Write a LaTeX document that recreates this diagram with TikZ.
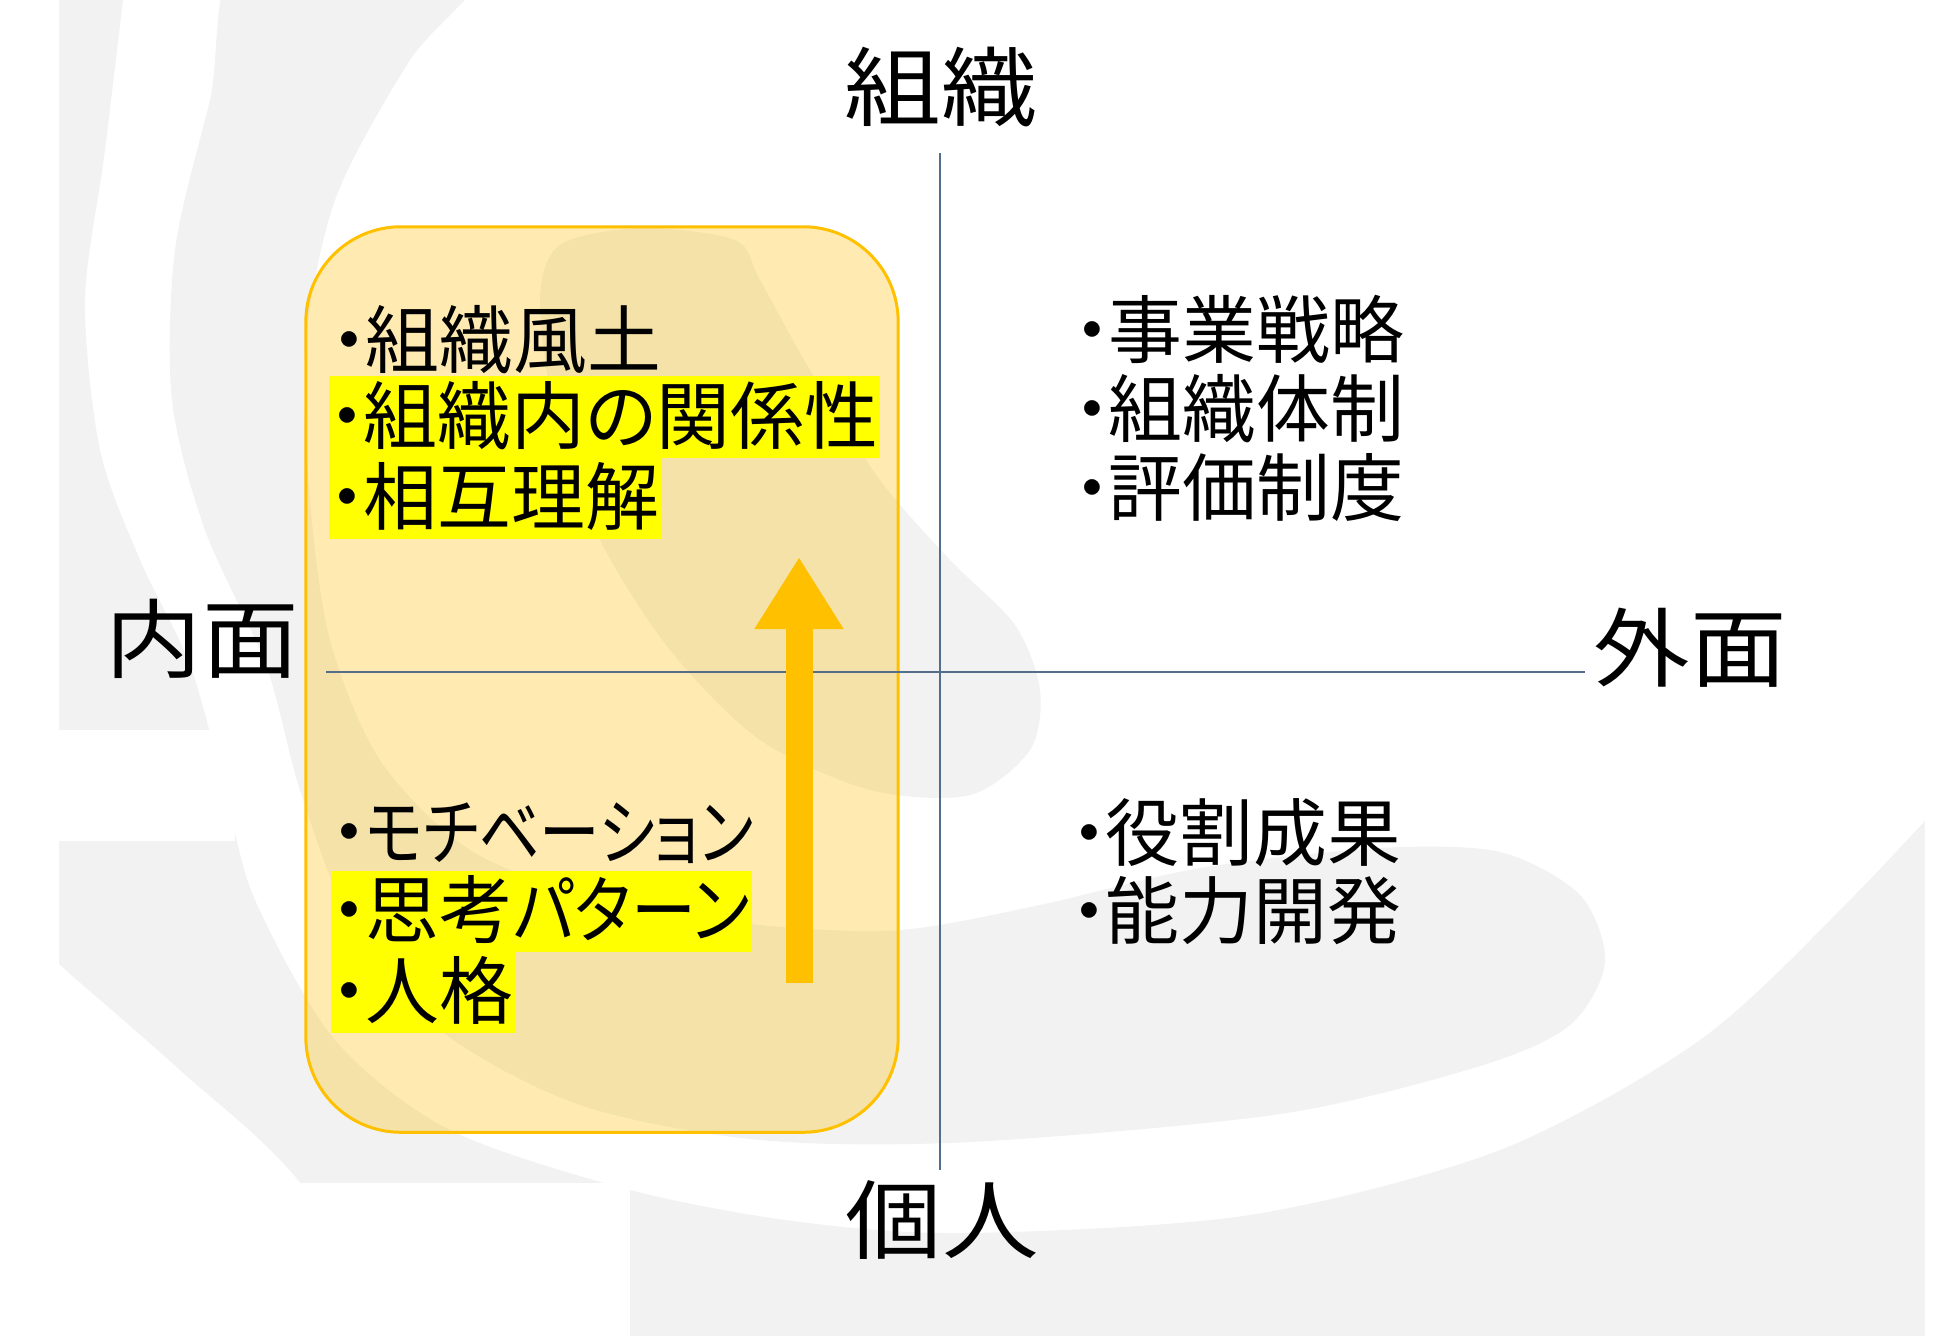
\documentclass[tikz,border=0pt]{standalone}
\usepackage{fontspec}
\usepackage{graphicx}
\setmainfont{Noto Sans CJK JP}[RawFeature=+palt]
\newfontfamily\ttlfont{Noto Sans CJK JP}[FakeStretch=1.12]
\usetikzlibrary{arrows.meta}
\definecolor{bggrey}{HTML}{F2F2F2}
\definecolor{gold}{HTML}{FFC000}
\definecolor{axiscol}{RGB}{84,110,138}
\definecolor{hlyellow}{HTML}{FFFF00}
\newcommand\bul{\makebox[0.45em][c]{・}}
\begin{document}
\begin{tikzpicture}[x=0.01cm,y=-0.01cm,
  item/.style={anchor=west, inner xsep=0.02cm, inner ysep=0pt, text height=0.665cm, text depth=0.145cm, font=\fontsize{21pt}{25pt}\selectfont},
  hlitem/.style={item, fill=hlyellow},
  axislabel/.style={inner sep=0pt, text height=0.775cm, text depth=0.17cm, font=\ttlfont\fontsize{24.5pt}{28pt}\selectfont},
  axisline/.style={draw=axiscol, line width=0.75pt},
  zone/.style={draw=gold, line width=0.85pt, fill=gold, fill opacity=0.3, rounded corners=0.95cm, minimum width=5.92cm, minimum height=9.05cm, inner sep=0pt},
  uparrow/.style={draw=gold, line width=0.27cm, -{Triangle[width=0.84cm,length=0.72cm]}},
  bg/.style={fill=bggrey}
]
\fill[white] (0,0) rectangle (1940,1335);
\useasboundingbox (0,0) rectangle (1940,1335);
% background swirl
\fill[bg] (-10,-60) -- plot[smooth] coordinates {(130,-60) (105,150) (85,300) (100,450) (140,560) (190,665) (225,790) (255,900) (335,1040) (450,1130) (630,1190) (800,1222) (970,1233) (1250,1215) (1500,1150) (1700,1040) (1850,900) (1990,750)} -- (1990,1400) -- plot[smooth] coordinates {(440,1400) (303,1186) (180,1070) (59,964) (-10,900)} -- cycle;
\fill[bg] plot[smooth cycle] coordinates {(250,-60) (210,100) (175,250) (172,400) (205,530) (266,665) (300,790) (350,920) (440,1030) (580,1105) (760,1140) (970,1142) (1280,1114) (1480,1066) (1570,1025) (1605,962) (1580,895) (1500,852) (1380,848) (1200,868) (1040,905) (900,930) (760,925) (600,900) (470,850) (380,760) (330,640) (310,500) (305,350) (335,200) (410,60) (500,-60)};
\fill[bg] plot[smooth cycle] coordinates {(540,300) (556,420) (600,540) (670,650) (760,740) (870,790) (970,795) (1030,750) (1040,690) (1015,625) (950,560) (880,480) (810,370) (760,280) (735,240) (640,228) (560,245)};
\fill[white] (-10,-10) rectangle (59,1345);
\fill[white] (-10,730) rectangle (235,841);
\fill[white] (-10,1183) rectangle (630,1345);
\fill[white] (1925,-10) rectangle (1950,1345);
% box
\node[zone] (zone) at (602,679.5) {};
% axes
\coordinate (vtop) at (940,153);
\coordinate (vbot) at (940,1170);
\coordinate (hleft) at (326,672);
\coordinate (hright) at (1585,672);
\draw[axisline] (vtop) -- (vbot);
\draw[axisline] (hleft) -- (hright);
% arrow
\coordinate (aS) at (799,983);
\coordinate (aE) at (799,557);
\draw[uparrow] (aS) -- (aE);
% axis labels
\node[axislabel] (org) at (941,89) {組織};
\node[axislabel] (ind) at (942,1222) {個人};
\node[axislabel] (inner) at (202,641) {内面};
\node[axislabel] (outer) at (1690,650) {外面};
% left items
\node[item] (t1) at (330,341) {\bul 組織風土};
\node[hlitem] (t2) at (328,417) {\bul 組織内の関係性};
\node[hlitem] (t3) at (328,498) {\bul 相互理解};
\node[item] (t4) at (330,833) {\bul \scalebox{0.82}[1]{モチベーション}};
\node[hlitem] (t5) at (330,911) {\bul 思考\scalebox{0.88}[1]{パターン}};
\node[hlitem] (t6) at (330,992) {\bul 人格};
% right items
\node[item] (r1) at (1073,331) {\bul 事業戦略};
\node[item] (r2) at (1073,410) {\bul 組織体制};
\node[item] (r3) at (1073,489) {\bul 評価制度};
\node[item] (r4) at (1070,834) {\bul 役割成果};
\node[item] (r5) at (1070,912) {\bul 能力開発};
\end{tikzpicture}
\end{document}
